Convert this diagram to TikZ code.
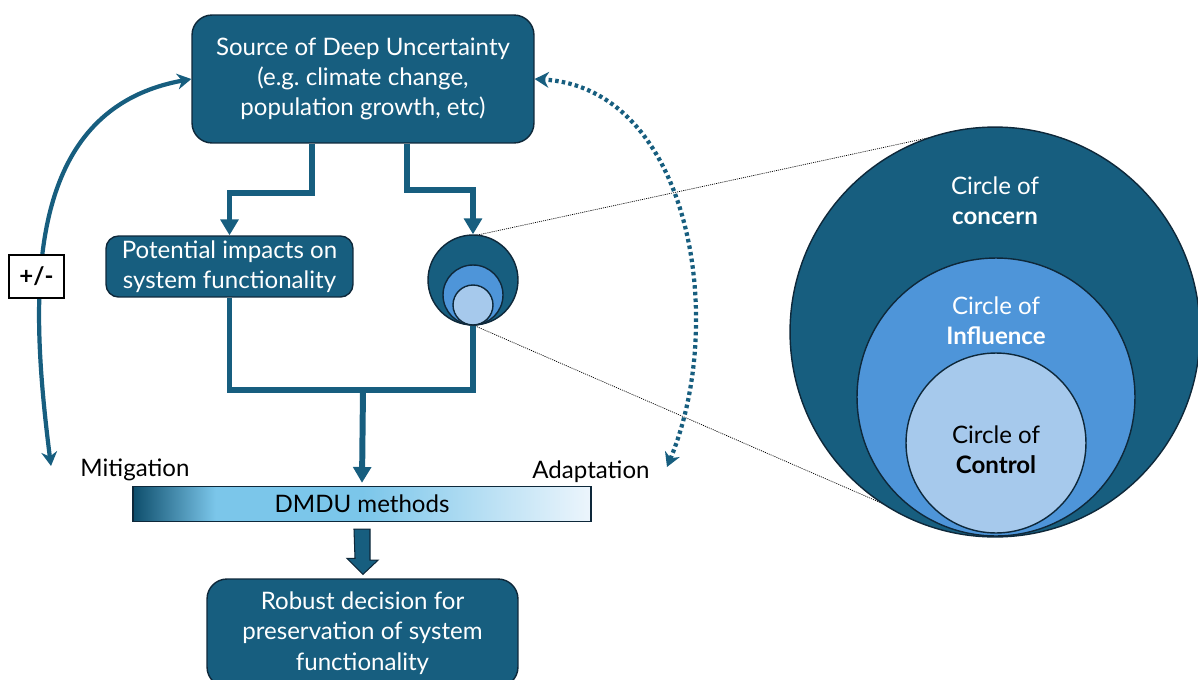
\documentclass[tikz,border=0pt]{standalone}
\usepackage{fontspec}
\setmainfont{Lato}
\usetikzlibrary{arrows.meta,calc}

\definecolor{dudark}{RGB}{23,94,127}
\definecolor{duborder}{RGB}{14,40,58}
\definecolor{dublue}{RGB}{78,149,217}
\definecolor{dulight}{RGB}{166,201,236}
\definecolor{dmdudark}{RGB}{14,78,108}
\definecolor{dmdusky}{RGB}{123,198,234}
\definecolor{dmdupale}{RGB}{236,245,252}

% path is mapped on 25bp..75bp of the shading
\pgfdeclarehorizontalshading{dmdushade}{100bp}{color(0bp)=(dmdudark); color(25bp)=(dmdudark);
  color(34bp)=(dmdusky); color(50bp)=(dmdusky); color(75bp)=(dmdupale); color(100bp)=(dmdupale)}

\begin{document}
\frenchspacing
\begin{tikzpicture}[x=0.02cm, y=-0.02cm,
    every node/.style={font=\fontsize{13.7}{17.2}\selectfont, align=center},
    box/.style={draw=duborder, line width=0.8pt, fill=dudark, text=white,
      rounded corners=0.4cm, inner sep=0pt},
    ring/.style={circle, draw=duborder, line width=0.8pt, inner sep=0pt},
    flow/.style={draw=dudark, line width=3.4pt, -{Triangle[width=10pt,length=9pt]}},
    flowline/.style={draw=dudark, line width=3.4pt},
    loopline/.style={draw=dudark, line width=2.4pt, {Stealth[width=9pt,length=8pt]}-{Stealth[width=9pt,length=8pt]}},
    zoomline/.style={draw=black, line width=0.4pt, dash pattern=on 0.6pt off 0.6pt}]

    \useasboundingbox (0,0) rectangle (1198,680);

    % boxes
    \node[box, minimum width=6.84cm, minimum height=2.56cm] (source) at (363,79)
      {Source of Deep Uncertainty\\(e.g.\ climate change,\\population growth, etc)};
    \node[box, rounded corners=0.25cm, minimum width=4.94cm, minimum height=1.22cm] (potential) at (229.5,266.5)
      {Potential impacts on\\system functionality};
    \node[box, minimum width=6.22cm, minimum height=2.16cm] (robust) at (362.5,633)
      {Robust decision for\\preservation of system\\functionality};
    \node[draw=duborder, line width=0.8pt, shading=dmdushade, minimum width=9.16cm, minimum height=0.7cm,
      inner sep=0pt] (dmdu) at (362,504) {DMDU methods};
    \node (mitigation) at (135,470) {Mitigation};
    \node (adaptation) at (591,472) {Adaptation};

    % zoom lines behind the circles
    \coordinate (concerntop) at ($(995,332)+(108:4.1cm)$);
    \coordinate (concernbot) at ($(995,332)+(237:4.1cm)$);
    \draw[zoomline] (473,236) -- (concerntop);
    \draw[zoomline] (473,325) -- (concernbot);

    % small circles
    \node[ring, fill=dudark, minimum size=1.8cm] (smallout) at (473,280) {};
    \node[ring, fill=dublue, minimum size=1.2cm] (smallmid) at (473,295) {};
    \node[ring, fill=dulight, minimum size=0.8cm] (smallin) at (473,305) {};

    % big circles
    \node[ring, fill=dudark, minimum size=8.2cm] (concern) at (995,332) {};
    \node[ring, fill=dublue, minimum size=5.56cm] (influence) at (996,397) {};
    \node[ring, fill=dulight, minimum size=3.6cm] (control) at (996,443) {};
    \node[text=white] (concernlbl) at (995,201) {Circle of\\\textbf{concern}};
    \node[text=white] (influencelbl) at (996,321) {Circle of\\\textbf{Influence}};
    \node[text=black] (controllbl) at (996,450) {Circle of\\\textbf{Control}};

    % connectors
    \draw[flow] ([xshift=-1.02cm]source.south) -- ++(0,49) -| (potential.north);
    \draw[flow] ([xshift=0.88cm]source.south) -- ++(0,46) -| (smallout.north);
    \coordinate (merge) at (363,390);
    \draw[flowline] (potential.south) |- (merge) -| (smallout.south);
    \draw[flow] (merge) -- ([yshift=0.06cm]dmdu.north);

    % block arrow to the decision
    \filldraw[fill=dudark, draw=duborder, line width=0.6pt] ($(dmdu.south)+(-8,7)$) -- ++(16,0) -- ++(0,31)
      -- ++(8,0) -- ($(robust.north)+(0.5,-4)$) -- ++(-16,-16) -- ++(8,0) -- cycle;

    % mitigation and adaptation loops
    \coordinate (mitend) at (51,466);
    \coordinate (adaend) at (667,467);
    \draw[loopline] (mitend) .. controls (30,300) and (20,110) .. (source.west);
    \draw[loopline, dash pattern=on 2pt off 1.8pt] (adaend) .. controls (728,320) and (690,88) .. (source.east);
    \node[draw=black, fill=white, line width=0.6pt, minimum width=1.1cm, minimum height=0.86cm,
      inner sep=0pt, font=\fontsize{13.7}{17.2}\selectfont\bfseries] (sign) at (36.5,276.5) {+/-};
  \end{tikzpicture}
\end{document}
